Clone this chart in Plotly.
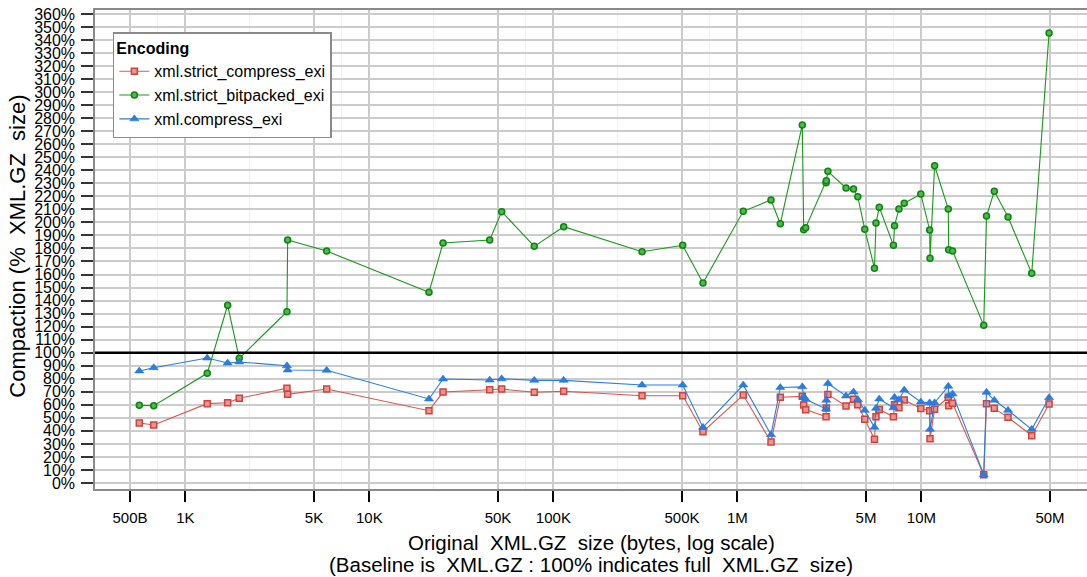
import plotly.graph_objects as go

# File sizes (bytes)
sizes = [562, 673, 1315, 1698, 1963, 3566, 3597, 5862, 21090, 25140,
         45080, 52370, 78760, 113800, 303300, 504500, 650200, 1076000, 1523000, 1711000,
         2253000, 2293000, 2351000, 3033000, 3043000, 3104000, 3893000, 4277000, 4512000, 4924000,
         5559000, 5665000, 5904000, 7051000, 7145000, 7550000, 8067000, 9927000, 11090000, 11140000,
         11800000, 14000000, 14070000, 14770000, 21820000, 22590000, 24900000, 29570000, 39780000, 49410000]

strict_compress = [46.0, 44.5, 60.9, 61.6, 65.0, 72.7, 68.1, 72.1, 55.5, 69.8,
                   71.6, 72.1, 69.6, 70.4, 67.0, 67.0, 39.4, 67.5, 31.5, 65.8,
                   66.5, 59.9, 56.3, 50.8, 57.5, 68.0, 59.1, 64.3, 60.0, 48.9,
                   33.6, 50.8, 56.4, 50.8, 60.0, 57.8, 63.7, 57.2, 55.5, 33.9,
                   56.6, 65.8, 59.3, 61.2, 6.4, 60.9, 57.3, 50.4, 36.3, 60.6]

strict_bitpacked = [59.6, 59.3, 84.2, 136.4, 95.7, 131.5, 186.5, 178.0, 146.3, 184.2,
                    186.5, 208.2, 181.6, 196.7, 177.5, 182.4, 153.5, 208.5, 217.2, 199.0,
                    274.8, 194.4, 195.9, 230.5, 232.0, 239.2, 226.4, 225.6, 219.7, 194.7,
                    164.8, 199.5, 211.6, 182.4, 197.5, 210.3, 214.7, 221.8, 194.2, 172.4,
                    243.5, 210.3, 179.0, 178.1, 121.0, 204.9, 223.9, 204.1, 160.9, 345.4]

compress = [86.0, 88.5, 95.9, 92.1, 92.9, 90.0, 86.7, 86.5, 64.5, 79.8,
            79.0, 80.0, 78.8, 78.8, 75.2, 75.2, 42.7, 75.2, 37.0, 73.3,
            73.8, 66.2, 64.2, 56.8, 63.5, 76.4, 66.8, 69.9, 64.0, 55.8,
            42.7, 57.3, 64.5, 57.7, 65.8, 63.9, 71.3, 62.2, 61.5, 41.2,
            61.6, 74.2, 67.0, 68.4, 6.4, 69.6, 63.5, 55.8, 41.2, 65.5]

x_tickvals = [500, 1000, 5000, 10000, 50000, 100000, 500000, 1000000, 5000000, 10000000, 50000000]
x_ticktext = ["500B", "1K", "5K", "10K", "50K", "100K", "500K", "1M", "5M", "10M", "50M"]
y_tickvals = list(range(0, 361, 10))
y_ticktext = [f"{v}%" for v in y_tickvals]

FONT = "Liberation Sans, Arial, Helvetica, sans-serif"

fig = go.Figure()

fig.add_trace(go.Scatter(
    x=sizes, y=strict_compress, mode="lines+markers", name="xml.strict_compress_exi",
    line=dict(color="#d9564f", width=1.1),
    marker=dict(symbol="square", size=6, color="#ec958f", line=dict(color="#d0433c", width=1.5)),
))
fig.add_trace(go.Scatter(
    x=sizes, y=strict_bitpacked, mode="lines+markers", name="xml.strict_bitpacked_exi",
    line=dict(color="#179a17", width=1.1),
    marker=dict(symbol="circle", size=6, color="#4fb84f", line=dict(color="#0b850b", width=1.5)),
))
fig.add_trace(go.Scatter(
    x=sizes, y=compress, mode="lines+markers", name="xml.compress_exi",
    line=dict(color="#2a7de1", width=1.1),
    marker=dict(symbol="triangle-up", size=8, color="#2a7de1", line=dict(color="#1f6fd6", width=0.5)),
))

# faint minor vertical gridlines at geometric midpoints between labelled ticks
shapes = []
mids = [(a * b) ** 0.5 for a, b in zip(x_tickvals[:-1], x_tickvals[1:])] + [(5e7 * 1e8) ** 0.5]
for m in mids:
    shapes.append(dict(type="line", xref="x", yref="paper", x0=m, x1=m, y0=0, y1=1,
                       line=dict(color="#eeeeee", width=1), layer="below"))
# 100% baseline
shapes.append(dict(type="line", xref="paper", yref="y", x0=0, x1=1, y0=100, y1=100,
                   line=dict(color="black", width=2.5), layer="above"))

annotations = [
    dict(text="Original  XML.GZ  size (bytes, log scale)", xref="paper", yref="paper",
         x=0.5, y=-0.112, xanchor="center", yanchor="middle", showarrow=False,
         font=dict(family=FONT, size=20.5, color="black")),
    dict(text="(Baseline is  XML.GZ : 100% indicates full  XML.GZ  size)", xref="paper", yref="paper",
         x=0.5, y=-0.158, xanchor="center", yanchor="middle", showarrow=False,
         font=dict(family=FONT, size=20.5, color="black")),
    dict(text="Compaction (%  XML.GZ  size)", xref="paper", yref="paper",
         x=-0.0776, y=0.506, xanchor="center", yanchor="middle", textangle=-90, showarrow=False,
         font=dict(family=FONT, size=22, color="black")),
]

fig.update_layout(
    width=1087, height=577,
    margin=dict(l=95, r=0, t=10, b=88, autoexpand=False),
    paper_bgcolor="white", plot_bgcolor="white",
    font=dict(family=FONT, color="black"),
    shapes=shapes,
    annotations=annotations,
    showlegend=True,
    legend=dict(
        x=0.018, y=0.954, xanchor="left", yanchor="top",
        bgcolor="white", bordercolor="#8a8a8a", borderwidth=1.5,
        title=dict(text="<b>Encoding</b>", font=dict(size=16), side="top"),
        font=dict(size=16), itemwidth=30, tracegroupgap=0,
    ),
    xaxis=dict(
        type="log", range=[2.509, 7.90], automargin=False,
        tickvals=x_tickvals, ticktext=x_ticktext,
        tickfont=dict(size=15),
        ticks="outside", ticklen=11, tickwidth=1.5, tickcolor="black",
        ticklabelstandoff=3,
        showgrid=True, gridcolor="#cccccc", gridwidth=1.5,
        showline=True, linecolor="#8a8a8a", linewidth=1.5, mirror=True,
        zeroline=False,
    ),
    yaxis=dict(
        range=[-4.6, 363.0], automargin=False,
        tickvals=y_tickvals, ticktext=y_ticktext,
        tickfont=dict(size=16),
        ticks="outside", ticklen=12, tickwidth=1.5, tickcolor="#333333",
        ticklabelstandoff=3,
        showgrid=True, gridcolor="#cccccc", gridwidth=1.5,
        showline=True, linecolor="#8a8a8a", linewidth=1.5, mirror=True,
        zeroline=False,
    ),
)

fig.write_html(
    "out.html",
    config={"displayModeBar": False},
    post_script="document.body.style.margin='0';document.body.style.overflow='hidden';",
)
